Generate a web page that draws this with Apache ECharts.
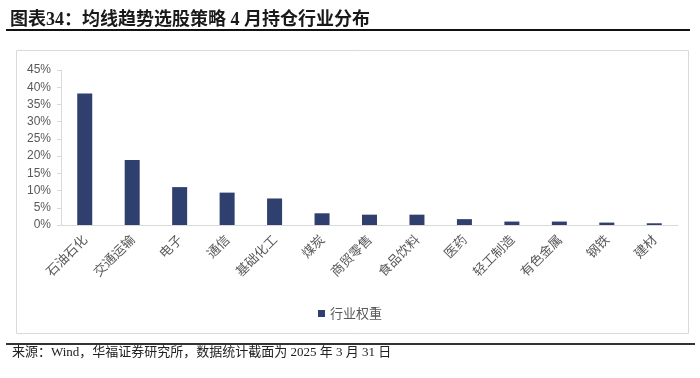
<!DOCTYPE html>
<html>
<head>
<meta charset="utf-8">
<script src="https://cdn.jsdelivr.net/npm/echarts@6/dist/echarts.min.js"></script>
<style>html,body{margin:0;padding:0;background:#fff;}#c{width:700px;height:378px;}</style>
</head>
<body>
<div id="c"></div>
<script>
const categories = ['石油石化','交通运输','电子','通信','基础化工','煤炭','商贸零售','食品饮料','医药','轻工制造','有色金属','钢铁','建材'];
const weights = [38.2, 18.9, 11.0, 9.4, 7.7, 3.4, 3.0, 3.0, 1.7, 1.0, 1.0, 0.7, 0.5];
const yTicks = {min: 0, max: 45, interval: 5};
const seriesName = '行业权重';
const titleText = '图表34：均线趋势选股策略 4 月持仓行业分布';
const sourceText = '来源：Wind，华福证券研究所，数据统计截面为 2025 年 3 月 31 日';

const chart = echarts.init(document.getElementById('c'), null, {renderer: 'canvas'});
chart.setOption({
  animation: false,
  backgroundColor: '#fff',
  title: {
    text: titleText,
    left: 5, top: 6,
    textStyle: {fontFamily: '"Liberation Serif", "Noto Sans CJK SC"', fontWeight: 'bold', fontSize: 18, color: '#1a1a1a'}
  },
  graphic: [
    {type: 'line', shape: {x1: 6, y1: 30, x2: 690, y2: 30}, style: {stroke: '#111', lineWidth: 2}},
    {type: 'rect', shape: {x: 16.5, y: 50.5, width: 672, height: 283}, style: {fill: 'none', stroke: '#d9d9d9', lineWidth: 1}},
    {type: 'line', shape: {x1: 6, y1: 344, x2: 695, y2: 344}, style: {stroke: '#333', lineWidth: 2}},
    {type: 'text', left: 12, top: 346, style: {text: sourceText, fontSize: 13, fontFamily: '"Liberation Serif", "Noto Sans CJK SC"', fill: '#222'}}
  ],
  legend: {
    data: [seriesName],
    left: 'center', top: 302,
    itemWidth: 7, itemHeight: 7, itemGap: 3,
    icon: 'rect',
    textStyle: {fontSize: 13, color: '#595959', fontFamily: '"Noto Sans CJK SC"'}
  },
  grid: {left: 61, right: 22, top: 70, bottom: 153, containLabel: false},
  xAxis: {
    type: 'category',
    data: categories,
    axisLine: {lineStyle: {color: '#d9d9d9'}},
    axisTick: {show: false},
    axisLabel: {rotate: 45, fontSize: 13, color: '#595959', fontFamily: '"Noto Sans CJK SC"', margin: 12, interval: 0}
  },
  yAxis: {
    type: 'value',
    min: yTicks.min, max: yTicks.max, interval: yTicks.interval,
    axisLine: {show: true, lineStyle: {color: '#d9d9d9'}},
    axisTick: {show: true, length: 4, lineStyle: {color: '#d9d9d9'}},
    splitLine: {show: false},
    axisLabel: {formatter: '{value}%', fontSize: 12, color: '#595959', fontFamily: '"Liberation Sans", Arial', margin: 10}
  },
  series: [{
    name: seriesName,
    type: 'bar',
    data: weights,
    barWidth: 15,
    itemStyle: {color: '#2f3f6e'}
  }]
});
</script>
</body>
</html>
